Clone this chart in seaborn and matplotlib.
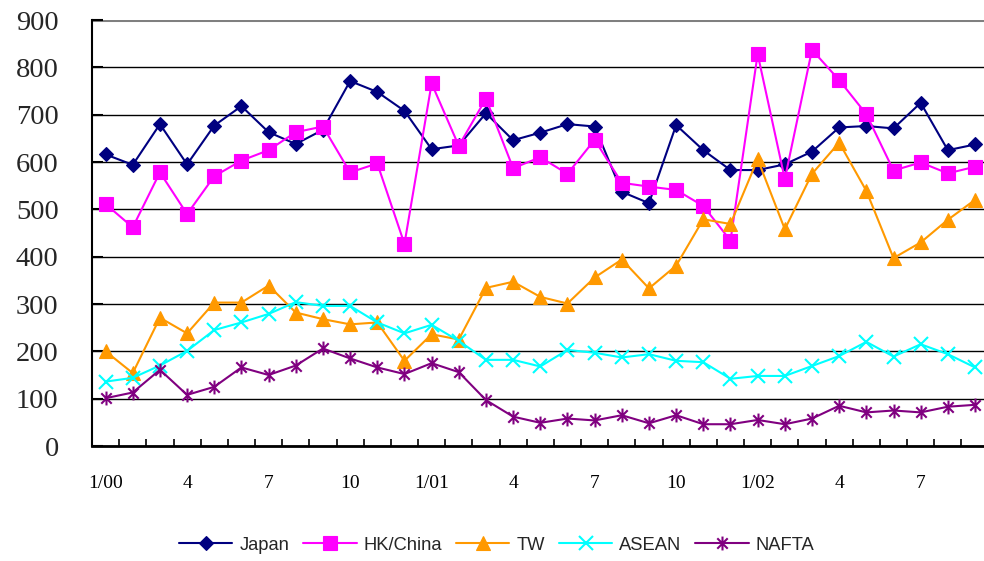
import numpy as np
import pandas as pd
import matplotlib
matplotlib.use("Agg")
import matplotlib.pyplot as plt
import seaborn as sns
from matplotlib.path import Path
from matplotlib.font_manager import FontProperties

# Monthly series, Jan 2000 - Sep 2002
months = pd.period_range("2000-01", "2002-09", freq="M")

japan = [616, 594, 680, 595, 677, 718, 663, 638, 668, 771, 748,
         708, 627, 635, 703, 646, 662, 680, 675, 537, 513, 678,
         625, 583, 583, 595, 622, 673, 676, 671, 725, 625, 637]
hk_china = [511, 462, 578, 490, 570, 603, 625, 663, 675, 578, 597,
            427, 766, 634, 734, 587, 610, 575, 647, 556, 548, 541,
            507, 434, 828, 564, 837, 773, 701, 582, 599, 576, 590]
tw = [200, 154, 271, 238, 303, 303, 339, 282, 268, 257, 261,
      180, 236, 225, 334, 347, 315, 301, 356, 394, 333, 381,
      479, 469, 606, 458, 575, 641, 539, 397, 430, 478, 520]
asean = [136, 144, 170, 201, 245, 261, 279, 304, 296, 296, 261,
         238, 256, 222, 182, 182, 168, 203, 197, 187, 194, 180,
         177, 142, 148, 148, 169, 190, 220, 189, 215, 194, 166]
nafta = [101, 113, 161, 108, 125, 166, 150, 170, 206, 185, 166,
         152, 175, 156, 97, 62, 49, 58, 54, 65, 48, 65,
         46, 46, 55, 46, 58, 85, 71, 75, 71, 83, 87]

series_names = ["Japan", "HK/China", "TW", "ASEAN", "NAFTA"]
series_values = [japan, hk_china, tw, asean, nafta]
y_ticks = list(range(0, 901, 100))

# Asterisk marker: an "x" with a vertical bar through it
star = Path([(0, -1), (0, 1), (-0.75, -0.75), (0.75, 0.75), (-0.75, 0.75), (0.75, -0.75)],
            [Path.MOVETO, Path.LINETO, Path.MOVETO, Path.LINETO, Path.MOVETO, Path.LINETO])

styles = {
    "Japan":    dict(color="#000080", marker="D", markersize=7.0, markeredgewidth=0.8),
    "HK/China": dict(color="#FF00FF", marker="s", markersize=10.5, markeredgewidth=0.8),
    "TW":       dict(color="#FF9900", marker="^", markersize=10.5, markeredgewidth=0.8),
    "ASEAN":    dict(color="#00FFFF", marker="x", markersize=10, markeredgewidth=1.5),
    "NAFTA":    dict(color="#800080", marker=star, markersize=10, markeredgewidth=1.5),
}

sns.set_theme(style="white")
plt.rcParams["font.family"] = ["Liberation Serif", "DejaVu Serif"]

fig = plt.figure(figsize=(9.84, 5.61), dpi=100)
ax = fig.add_axes([92 / 984, 115 / 561, 896.6 / 984, 426 / 561])

x = np.arange(len(months))
for name, vals in zip(series_names, series_values):
    df = pd.DataFrame({"month": x, "value": vals})
    st = styles[name]
    sns.lineplot(data=df, x="month", y="value", ax=ax, label=name,
                 color=st["color"], marker=st["marker"], markersize=st["markersize"],
                 markeredgecolor=st["color"], markerfacecolor=st["color"],
                 markeredgewidth=st["markeredgewidth"], linewidth=1.5)

# Axes limits and ticks
ax.set_xlim(-0.5, len(months) - 0.5)
ax.set_ylim(0, 900)
ax.set_yticks(y_ticks)
ax.set_yticklabels([str(v) for v in y_ticks])

def month_label(p):
    return f"1/{p.year % 100:02d}" if p.month == 1 else str(p.month)

label_pos = [i for i, p in enumerate(months) if (p.month - 1) % 3 == 0]
ax.set_xticks(label_pos)
ax.set_xticklabels([month_label(months[i]) for i in label_pos])
ax.set_xticks(np.arange(-0.5, len(months), 1), minor=True)

ax.tick_params(axis="x", which="major", length=0, pad=21, labelsize=14, colors="black")
ax.tick_params(axis="x", which="minor", direction="in", length=5, width=1.2, color="black", bottom=True)
ax.tick_params(axis="y", which="major", direction="in", length=8, width=1.5, color="black",
               pad=24, labelsize=20.5, left=True)
ax.set_xlabel("")
ax.set_ylabel("")

# Horizontal gridlines; the top one acts as the gray frame edge
ax.yaxis.grid(True, color="black", linewidth=1.0)
ax.xaxis.grid(False)
gl = ax.get_ygridlines()
gl[-1].set_color("#808080")
gl[-1].set_linewidth(2.2)
ax.set_axisbelow(True)

for side in ["top", "right"]:
    ax.spines[side].set_visible(False)
ax.spines["left"].set_color("black")
ax.spines["left"].set_linewidth(1.5)
ax.spines["bottom"].set_color("black")
ax.spines["bottom"].set_linewidth(2.0)

handles, labels = ax.get_legend_handles_labels()
if ax.legend_:
    ax.legend_.remove()
legend_font = FontProperties(family=["Liberation Sans"], size=13.2)
fig.legend(handles, labels, loc="center", bbox_to_anchor=(497 / 984, 16 / 561),
           ncol=5, frameon=False, prop=legend_font, handlelength=2.9,
           handletextpad=0.4, columnspacing=0.75)

fig.savefig("out.png", dpi=100)
